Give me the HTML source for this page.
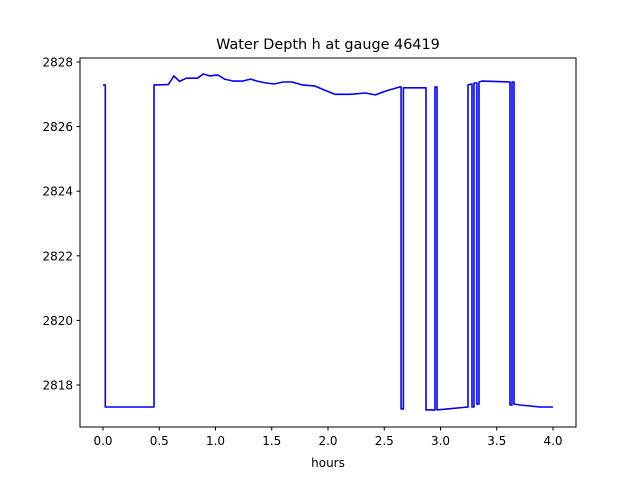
<!DOCTYPE html>
<html><head><meta charset="utf-8"><style>
body{margin:0;background:#fff}
svg{display:block;font-family:"DejaVu Sans","Liberation Sans",sans-serif}
</style></head><body>
<svg id="chart" width="640" height="480">
<rect width="640" height="480" fill="#fff"/>
<text x="328" y="49" font-size="14.4" text-anchor="middle">Water Depth h at gauge 46419</text>
<g id="ticks"></g>
<path id="line" fill="none" stroke="#0000ff" stroke-width="1.6" stroke-linejoin="round"/>
<rect x="80" y="58" width="496" height="369" fill="none" stroke="#000" stroke-width="1"/>
<text x="328" y="467" font-size="12" text-anchor="middle">hours</text>
</svg>
<script>
const xTicks=[0,0.5,1,1.5,2,2.5,3,3.5,4];
const yTicks=[2818,2820,2822,2824,2826,2828];
const hours=[0,0.02,0.02,0.453,0.453,0.58,0.63,0.68,0.74,0.84,0.89,0.95,1.02,1.08,1.16,1.24,1.31,1.37,1.45,1.52,1.6,1.68,1.77,1.88,1.97,2.06,2.2,2.33,2.42,2.51,2.64,2.65,2.65,2.67,2.67,2.871,2.871,2.933,2.951,2.951,2.969,2.969,3.244,3.244,3.28,3.28,3.298,3.298,3.324,3.324,3.342,3.342,3.369,3.618,3.618,3.636,3.636,3.653,3.653,3.707,3.884,4.0];
const depth=[2827.29,2827.29,2817.32,2817.32,2827.29,2827.3,2827.57,2827.4,2827.5,2827.5,2827.63,2827.57,2827.6,2827.47,2827.41,2827.41,2827.47,2827.41,2827.35,2827.32,2827.38,2827.38,2827.29,2827.26,2827.13,2827.0,2827.0,2827.04,2826.98,2827.1,2827.23,2827.23,2817.26,2817.26,2827.2,2827.2,2817.23,2817.23,2817.23,2827.23,2827.23,2817.23,2817.32,2827.29,2827.32,2817.32,2817.32,2827.35,2827.35,2817.41,2817.41,2827.38,2827.41,2827.38,2817.38,2817.38,2827.38,2827.38,2817.41,2817.38,2817.32,2817.32];
const X=t=>103+t*112.5;
const Y=h=>62+(2828-h)*32.3;
const ns="http://www.w3.org/2000/svg";
const g=document.getElementById('ticks');
xTicks.forEach(t=>{
  const l=document.createElementNS(ns,'line');
  l.setAttribute('x1',X(t));l.setAttribute('x2',X(t));l.setAttribute('y1',427);l.setAttribute('y2',430.5);l.setAttribute('stroke','#000');
  
  
  g.appendChild(l);
  const tx=document.createElementNS(ns,'text');
  tx.setAttribute('x',X(t));tx.setAttribute('y',445);tx.setAttribute('font-size','12');tx.setAttribute('text-anchor','middle');
  tx.textContent=t.toFixed(1);
  
  
  g.appendChild(tx);
});
yTicks.forEach(h=>{
  const l=document.createElementNS(ns,'line');
  l.setAttribute('x1',76.5);l.setAttribute('x2',80);l.setAttribute('y1',Y(h));l.setAttribute('y2',Y(h));l.setAttribute('stroke','#000');
  
  
  g.appendChild(l);
  const tx=document.createElementNS(ns,'text');
  tx.setAttribute('x',73);tx.setAttribute('y',Y(h)+4.5);tx.setAttribute('font-size','12');tx.setAttribute('text-anchor','end');
  tx.textContent=h;
  
  
  g.appendChild(tx);
});
document.getElementById('line').setAttribute('d',hours.map((t,i)=>(i?'L':'M')+X(t).toFixed(1)+' '+Y(depth[i]).toFixed(1)).join(''));
</script>
</body></html>
